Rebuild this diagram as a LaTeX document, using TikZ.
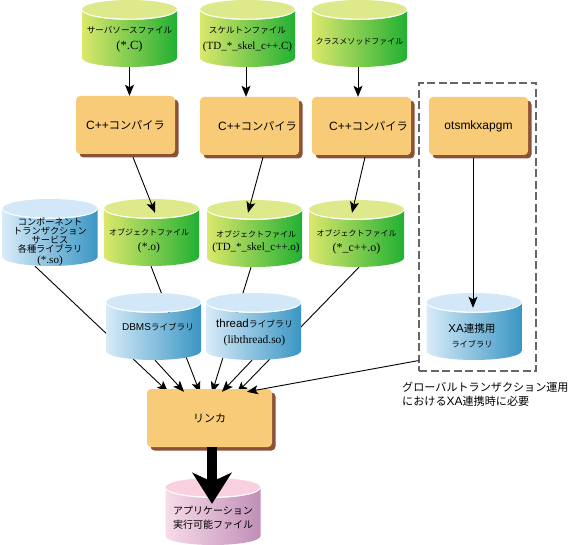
\documentclass[tikz,border=0pt]{standalone}
\usepackage{fontspec}
\usepackage{xcolor}
\usepackage{tikz}
\usetikzlibrary{
arrows.meta,
calc,
backgrounds,
shadows
}
\setmainfont{Liberation Sans}
\newfontfamily\jpfont{Noto Sans CJK JP}
\newfontfamily\tmfont{Liberation Serif}
\definecolor{dbgreenl}{HTML}{DCE86C}
\definecolor{dbgreenr}{HTML}{22B033}
\definecolor{dbgreent}{HTML}{DDE98A}
\definecolor{dbbluel}{HTML}{D8EBF8}
\definecolor{dbbluer}{HTML}{3A96C4}
\definecolor{dbbluet}{HTML}{D2E8F8}
\definecolor{dbpinkl}{HTML}{F8DCE8}
\definecolor{dbpinkr}{HTML}{C08FB8}
\definecolor{dbpinkt}{HTML}{F8D0DF}
\definecolor{boxfill}{HTML}{F8CB78}
\definecolor{boxedge}{HTML}{8B5236}
\newcommand{\jpt}[2]{{\jpfont\fontsize{#1}{#1}\selectfont #2}}
\newcommand{\tmt}[2]{{\tmfont\fontsize{#1}{#1}\selectfont #2}}
\tikzset{
compbox/.style={rectangle, rounded corners=4pt, fill=boxfill, minimum width=99pt, minimum height=58pt, inner sep=0pt, font=\fontsize{12}{14}\selectfont,
  drop shadow={shadow xshift=3.5pt, shadow yshift=-3.5pt, fill=boxedge, opacity=1}},
dbbody/.style={rectangle, minimum width=95pt, minimum height=57pt, inner sep=0pt},
dblabel/.style={inner sep=0pt, align=center, font=\fontsize{10}{14}\selectfont},
conn/.style={line width=0.9pt, ->},
notebox/.style={draw=black!60, line width=1.2pt, dash pattern=on 8pt off 3.5pt, minimum width=117pt, minimum height=288pt, inner sep=0pt}
}
% cylinder: name, centre x, top y, colour, text offset, text
\newcommand{\dbnode}[6]{%
  \path[left color=db#4l, right color=db#4r]
    (#2-47.5,#3+10) -- (#2-47.5,#3+58) arc[start angle=180, end angle=0, x radius=47.5, y radius=9]
    -- (#2+47.5,#3+10) arc[start angle=0, end angle=180, x radius=47.5, y radius=10] -- cycle;
  \fill[db#4t] (#2,#3+9.5) ellipse[x radius=47.5, y radius=9.5];
  \draw[white, line width=0.7pt] (#2-47.5,#3+9.5) arc[start angle=180, end angle=0, x radius=47.5, y radius=9.5];
  \node[dbbody] (#1) at (#2,#3+38.5) {};
  \node[dblabel] (#1text) at ($(#1)+(#5)$) {#6};
}

\begin{document}
\begin{tikzpicture}[x=1pt, y=-1pt, >={Stealth[length=11pt, width=9pt, inset=2.5pt]}]
\useasboundingbox (0,0) rectangle (570,545);

% Source files
\dbnode{srcfile}{129.5}{0}{green}{0,0.5}{\jpt{8.6}{サーバソースファイル}\\[2pt]\tmt{12.5}{(*.C)}}
\dbnode{skelfile}{247.5}{0}{green}{0,0.5}{\jpt{8.6}{スケルトンファイル}\\[2pt]\tmt{11}{(TD\_*\_skel\_c++.C)}}
\dbnode{classfile}{359.5}{0}{green}{0,3}{\jpt{8}{クラスメソッドファイル}}

% Compilers
\node[compbox] (cppa) at (125.5,125) {C++\jpt{11.2}{コンパイラ}};
\node[compbox] (cppb) at (249.5,126) {\hspace*{16pt}C++\jpt{11.2}{コンパイラ}};
\node[compbox] (cppc) at (361.5,126) {\hspace*{14pt}C++\jpt{11.2}{コンパイラ}};
\node[compbox] (xapgm) at (478.5,126) {otsmkxapgm};

% Object files and libraries
\dbnode{comlib}{50}{199}{blue}{0,4.5}{\jpt{9.2}{コンポーネント}\\[-5pt]\jpt{9.2}{トランザクション}\\[-5pt]\jpt{9.2}{サービス}\\[-5pt]\jpt{9.2}{各種ライブラリ}\\[-3pt]\tmt{11}{(*.so)}}
\dbnode{obja}{151.5}{199}{green}{-2.5,3}{\jpt{8}{オブジェクトファイル}\\[1pt]\tmt{11.5}{(*.o)}}
\dbnode{objb}{254.5}{200}{green}{1.5,3}{\jpt{8}{オブジェクトファイル}\\[-1pt]\tmt{11}{(TD\_*\_skel\_c++.o)}}
\dbnode{objc}{356.5}{200}{green}{0,3}{\jpt{8}{オブジェクトファイル}\\[1pt]\tmt{12}{(*\_c++.o)}}

\dbnode{dbmslib}{153.5}{293}{blue}{4.5,-5}{\fontsize{10}{12}\selectfont DBMS\jpt{8.6}{ライブラリ}}
\dbnode{threadlib}{253.5}{293}{blue}{1,1}{\fontsize{11.5}{13}\selectfont thread\jpt{8.8}{ライブラリ}\\[2pt]\tmt{11.5}{(libthread.so)}}
\dbnode{xalib}{474}{293}{blue}{-2,4}{\fontsize{11.5}{13}\selectfont XA\jpt{10.6}{連携用}\\[1pt]\jpt{8.2}{ライブラリ}}

% Linker and result
\node[compbox, minimum width=125pt] (linker) at (209.5,418) {\jpt{11}{リンカ}};
\dbnode{appfile}{213}{478}{pink}{0,1}{\jpt{10}{アプリケーション}\\[0pt]\jpt{10}{実行可能ファイル}}

% Dashed frame and note
\node[notebox] (xaframe) at (477.5,227) {};
\node[anchor=north west, inner sep=0pt, align=left, font=\fontsize{12}{14}\selectfont] (xanote) at (402,382)
  {\jpt{11.1}{グローバルトランザクション運用}\\\jpt{11.1}{における}XA\jpt{11.1}{連携時に必要}};

% Behind the libraries
\begin{scope}[on background layer]
\draw[conn] ($(comlib.south)+(-15,0)$) -- ($(linker.north)+(-41.5,3)$);
\draw[conn] ($(obja.south)+(-0.5,0)$) -- ($(linker.north)+(-9.5,4)$);
\draw[conn] ($(objb.south)+(-3.5,0)$) -- ($(linker.north)+(2.5,4)$);
\draw[conn] ($(objc.south)+(2.5,0)$) -- ($(linker.north)+(27.5,4)$);
\end{scope}

% Connectors
\draw[conn] (srcfile.south) -- (srcfile.south |- cppa.north);
\draw[conn] ($(skelfile.south)+(-1.5,0)$) -- ($(cppb.north)+(-3.5,0)$);
\draw[conn] ($(classfile.south)+(-1.5,0)$) -- ($(cppc.north)+(-3.5,0)$);
\draw[conn] ($(cppa.south)+(7.5,3)$) -- ($(obja.north)+(3.5,4)$);
\draw[conn] ($(cppb.south)+(13.5,2)$) -- ($(objb.north)+(-6.5,3)$);
\draw[conn] ($(cppc.south)+(3.5,2)$) -- ($(objc.north)+(-4.5,3)$);
\draw[conn] ($(xapgm.south)+(-5.5,3)$) -- ($(xalib.north)+(-1,5)$);
\draw[conn] ($(dbmslib.south)+(1.5,0)$) -- ($(linker.north)+(-25.5,3)$);
\draw[conn] ($(threadlib.south)+(-1.5,0)$) -- ($(linker.north)+(12.5,3)$);
\draw[conn] ($(xaframe.south west)+(0,-11)$) -- ($(linker.north)+(37.5,3)$);
\draw[line width=10pt, -{Stealth[length=31pt, width=39pt, inset=9pt]}] ($(linker.south)+(2.5,0)$) -- ($(appfile.north)+(-1,16)$);

\end{tikzpicture}
\end{document}
